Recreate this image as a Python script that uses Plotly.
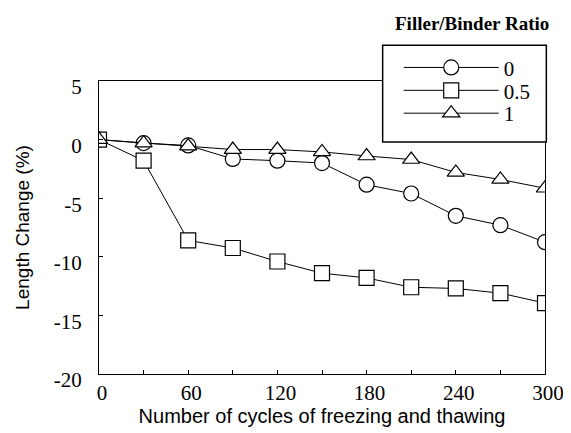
import plotly.graph_objects as go

# Ciclos de hielo-deshielo
cycles = [0, 30, 60, 90, 120, 150, 180, 210, 240, 270, 300]

# Variación de longitud (%) por relación filler/binder
ratio_0 = [0, -0.3, -0.5, -1.65, -1.8, -2.0, -3.85, -4.6, -6.5, -7.3, -8.75]
ratio_05 = [0, -1.8, -8.6, -9.25, -10.4, -11.4, -11.8, -12.6, -12.7, -13.1, -13.95]
ratio_1 = [0, -0.3, -0.55, -0.85, -0.85, -1.05, -1.4, -1.7, -2.8, -3.4, -4.15]

series = [
    ("0", ratio_0, "circle"),
    ("0.5", ratio_05, "square"),
    ("1", ratio_1, "triangle-up"),
]

x_ticks = [0, 60, 120, 180, 240, 300]
y_ticks = [5, 0, -5, -10, -15, -20]
y_tick_text = ["5", "0", "-5", "-10", "-15", "-20"]  # guion simple, no signo menos

SERIF = "Liberation Serif, Times New Roman, serif"
SANS = "Liberation Sans, Arial, sans-serif"

# Una leyenda por fila para controlar el espaciado
legend_ids = ["legend", "legend2", "legend3"]
legend_rows_y = [1.045, 0.967, 0.889]

fig = go.Figure()
for (name, vals, sym), lg in zip(series, legend_ids):
    fig.add_trace(go.Scatter(
        x=cycles, y=vals, name=name, mode="lines+markers", legend=lg,
        line=dict(color="black", width=1),
        marker=dict(symbol=sym, size=15, color="white",
                    line=dict(color="black", width=1.2)),
    ))

fig.update_xaxes(
    range=[0, 300], tickvals=x_ticks, showgrid=False, zeroline=False,
    showline=True, linecolor="black", linewidth=1.2, mirror=True,
    ticks="inside", ticklen=4, tickcolor="black",
    minor=dict(dtick=30, ticks="inside", ticklen=4, tickcolor="black"),
    tickfont=dict(family=SERIF, size=21, color="black"),
    ticklabelstandoff=0, ticklabelshift=3,
    title=dict(text="Number of cycles of freezing and thawing",
               font=dict(family=SANS, size=20, color="black"), standoff=2),
)
fig.update_yaxes(
    range=[-20, 5], tickvals=y_ticks, ticktext=y_tick_text,
    showgrid=False, zeroline=False,
    showline=True, linecolor="black", linewidth=1.2, mirror=True,
    ticks="inside", ticklen=4, tickcolor="black",
    tickfont=dict(family=SERIF, size=21, color="black"),
    ticklabelstandoff=12, ticklabelshift=6,
    title=dict(text="Length Change (%)",
               font=dict(family=SANS, size=19, color="black"), standoff=19),
)

# Recuadro de la leyenda (tapa el borde superior/derecho del gráfico)
fig.add_shape(
    type="rect", xref="paper", yref="paper",
    x0=0.636, x1=1.003, y0=0.792, y1=1.122,
    line=dict(color="black", width=1.5), fillcolor="white", layer="above",
)

legend_style = dict(
    x=0.672, xanchor="left", yanchor="middle",
    bgcolor="rgba(0,0,0,0)", borderwidth=0,
    font=dict(family=SERIF, size=21, color="black"),
    itemwidth=95,
)

fig.update_layout(
    width=571, height=433,
    margin=dict(l=91, r=34, t=73, b=67, autoexpand=False),
    plot_bgcolor="white", paper_bgcolor="white",
    showlegend=True,
    annotations=[dict(
        text="<b>Filler/Binder Ratio</b>", x=0.837, y=1.195,
        xref="paper", yref="paper", xanchor="center", yanchor="middle",
        showarrow=False, font=dict(family=SERIF, size=19, color="black"),
    )],
)
for lg, ly in zip(legend_ids, legend_rows_y):
    fig.update_layout({lg: dict(legend_style, y=ly)})

fig.write_html("out.html")
